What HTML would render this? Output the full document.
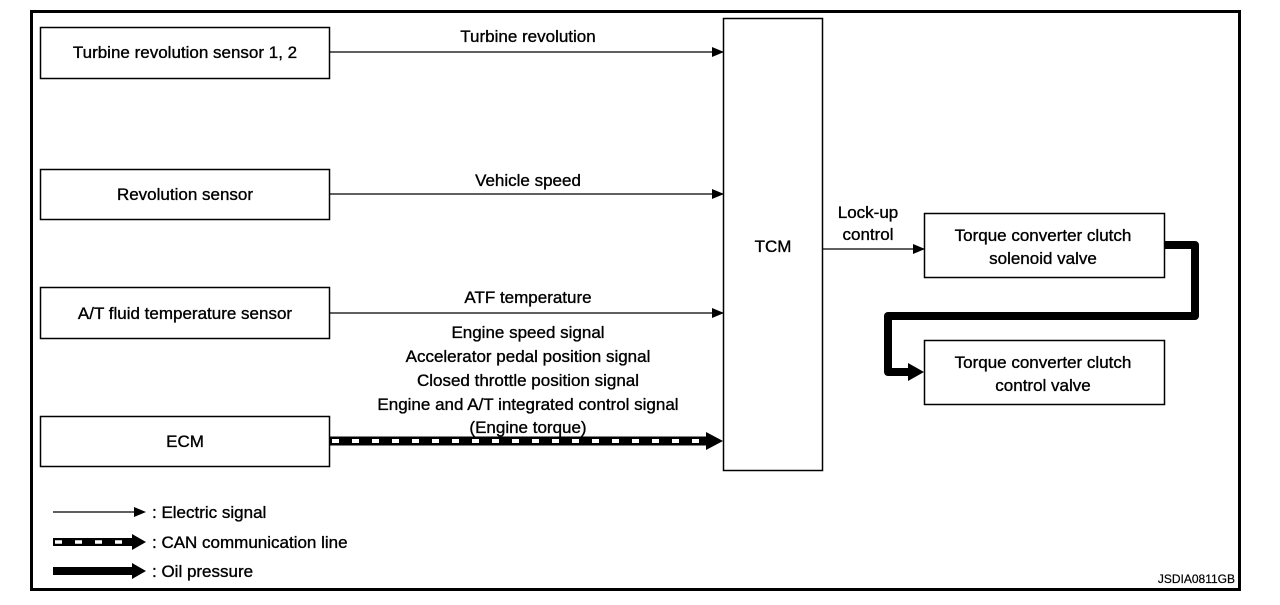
<!DOCTYPE html>
<html><head><meta charset="utf-8"><style>
html,body{margin:0;padding:0;background:#fff;}
svg text{font-family:"Liberation Sans",Arial,sans-serif;font-size:17px;fill:#000;stroke:#000;stroke-width:0.35;}
</style></head><body>
<svg width="1280" height="600" viewBox="0 0 1280 600" xmlns="http://www.w3.org/2000/svg">
<defs>
<marker id="a" markerWidth="12" markerHeight="10" refX="11" refY="5" orient="auto" markerUnits="userSpaceOnUse"><path d="M0,0 L12,5 L0,10 z" fill="#000"/></marker>
</defs>
<rect x="31.5" y="11.5" width="1208" height="578" fill="none" stroke="#000" stroke-width="3"/>
<g fill="none" stroke="#000" stroke-width="1.5">
<rect x="40.5" y="27.5" width="289" height="51"/>
<rect x="40.5" y="169.5" width="289" height="50"/>
<rect x="40.5" y="287.5" width="289" height="51"/>
<rect x="40.5" y="416.5" width="289" height="50"/>
<rect x="723.5" y="18.5" width="99" height="452"/>
<rect x="924.5" y="213.5" width="240" height="64"/>
<rect x="924.5" y="340.5" width="240" height="64"/>
</g>
<text x="185" y="58" text-anchor="middle">Turbine revolution sensor 1, 2</text>
<text x="185" y="200" text-anchor="middle">Revolution sensor</text>
<text x="185" y="319" text-anchor="middle">A/T fluid temperature sensor</text>
<text x="185" y="447" text-anchor="middle">ECM</text>
<text x="773" y="252" text-anchor="middle">TCM</text>
<text x="1043" y="241" text-anchor="middle">Torque converter clutch</text>
<text x="1043" y="264" text-anchor="middle">solenoid valve</text>
<text x="1043" y="368" text-anchor="middle">Torque converter clutch</text>
<text x="1043" y="391" text-anchor="middle">control valve</text>
<g stroke="#000" stroke-width="1.3">
<line x1="330" y1="52" x2="723" y2="52" marker-end="url(#a)"/>
<line x1="330" y1="194" x2="723" y2="194" marker-end="url(#a)"/>
<line x1="330" y1="313" x2="723" y2="313" marker-end="url(#a)"/>
<line x1="823" y1="249" x2="924" y2="249" marker-end="url(#a)"/>
</g>
<text x="528" y="42" text-anchor="middle">Turbine revolution</text>
<text x="528" y="186" text-anchor="middle">Vehicle speed</text>
<text x="528" y="303" text-anchor="middle">ATF temperature</text>
<text x="528" y="338" text-anchor="middle">Engine speed signal</text>
<text x="528" y="362" text-anchor="middle">Accelerator pedal position signal</text>
<text x="528" y="386" text-anchor="middle">Closed throttle position signal</text>
<text x="528" y="410" text-anchor="middle">Engine and A/T integrated control signal</text>
<text x="528" y="433" text-anchor="middle">(Engine torque)</text>
<text x="868" y="218" text-anchor="middle">Lock-up</text>
<text x="868" y="240" text-anchor="middle">control</text>
<line x1="330" y1="441" x2="708" y2="441" stroke="#000" stroke-width="9"/>
<line x1="332" y1="441" x2="708" y2="441" stroke="#fff" stroke-width="4" stroke-dasharray="7,13"/>
<path d="M706,432 L723,441 L706,450 z" fill="#000"/>
<path d="M1165,245 L1195,245 L1195,316 L888,316 L888,372 L910,372" fill="none" stroke="#000" stroke-width="8" stroke-linejoin="round"/>
<path d="M908,363 L924,372 L908,381 z" fill="#000"/>
<line x1="53" y1="512" x2="138" y2="512" stroke="#000" stroke-width="1.3"/>
<path d="M134,507 L146,512 L134,517 z" fill="#000"/>
<text x="152" y="518">: Electric signal</text>
<line x1="53" y1="542" x2="135" y2="542" stroke="#000" stroke-width="8"/>
<line x1="55" y1="542" x2="135" y2="542" stroke="#fff" stroke-width="3.5" stroke-dasharray="7,13"/>
<path d="M132,534 L146,542 L132,550 z" fill="#000"/>
<text x="152" y="548">: CAN communication line</text>
<line x1="53" y1="571" x2="135" y2="571" stroke="#000" stroke-width="8"/>
<path d="M132,563 L146,571 L132,579 z" fill="#000"/>
<text x="152" y="577">: Oil pressure</text>
<text x="1235" y="583" text-anchor="end" style="font-size:12px;stroke-width:0.2">JSDIA0811GB</text>
</svg>
</body></html>
